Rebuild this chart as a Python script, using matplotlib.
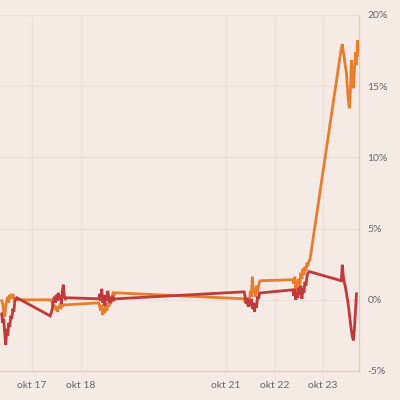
import matplotlib
matplotlib.use("Agg")
import matplotlib.pyplot as plt
import pandas as pd

# ---- data (percent change), half-hourly from 09:00 each trading day ----
session_days = ["2019-10-16", "2019-10-17", "2019-10-18",
                "2019-10-21", "2019-10-22", "2019-10-23"]

orange_16 = [-0.07, -0.28, -0.92, -1.20, -0.42, -0.07, 0.21, -0.21, 0.35,
             0.14, 0.42, 0.07, 0.21, 0.0, 0.0, 0.0, 0.0, 0.0]
orange_17 = [0.0, -0.07, -0.14, -0.49, -0.35, -0.70, -0.49, -0.85, -0.42,
             -0.63, -0.28, -0.49, -0.35, -0.42, -0.35, -0.35, -0.35, -0.35]
orange_18 = [-0.21, -0.49, -0.77, -0.35, -1.06, -0.63, -0.92, -0.42, -0.77,
             -0.21, -0.49, -0.07, -0.28, 0.21, 0.42, 0.28, 0.49, 0.49]
orange_21 = [0.07, -0.21, 0.14, -0.35, 0.07, -0.07, 0.63, 0.21, 1.62,
             0.49, 0.77, 0.21, 0.99, 0.49, 0.92, 1.27, 1.34, 1.34]
orange_22 = [1.41, 1.13, 1.62, 0.63, 1.34, 0.42, 1.48, 1.06, 1.90,
             1.48, 2.18, 1.76, 2.32, 2.04, 2.61, 2.39, 2.75, 2.82]
orange_23 = [17.68, 17.96, 17.39, 16.97, 16.41, 15.99, 14.86, 14.01, 13.45,
             14.72, 16.83, 15.77, 14.86, 16.13, 17.39, 16.48, 18.24, 17.18]

red_16 = [-0.99, -1.62, -1.34, -2.32, -3.17, -2.04, -2.54, -1.62, -1.90,
          -1.13, -1.34, -0.63, -0.85, -0.07, 0.07, 0.14, 0.07, 0.07]
red_17 = [-1.13, -0.92, -0.63, -0.07, 0.21, -0.21, 0.35, -0.07, 0.49,
          0.07, 0.28, -0.28, 0.63, 1.06, 0.21, 0.07, 0.14, 0.14]
red_18 = [0.07, 0.42, -0.07, 0.77, -0.21, 0.28, -0.42, 0.35, -0.07,
          0.63, 0.07, -0.21, 0.21, 0.0, 0.14, 0.0, 0.07, 0.07]
red_21 = [0.56, 0.07, -0.28, 0.14, -0.49, -0.07, -0.42, 0.07, -0.63,
          -0.21, -0.85, -0.28, -0.56, 0.21, 0.07, 0.42, 0.49, 0.49]
red_22 = [0.70, 0.28, 0.77, 0.0, 0.49, 0.14, 0.85, 0.35, 0.99,
          0.07, 0.77, 0.49, 1.27, 0.99, 1.62, 1.90, 1.97, 1.97]
red_23 = [1.34, 2.46, 1.62, 1.20, 0.92, 0.49, 0.07, -0.42, -0.99,
          -1.62, -2.18, -2.60, -2.85, -2.04, -0.77, 0.42]

orange_sessions = [orange_16, orange_17, orange_18, orange_21, orange_22, orange_23]
red_sessions = [red_16, red_17, red_18, red_21, red_22, red_23]

tick_dates = ["2019-10-17", "2019-10-18", "2019-10-21", "2019-10-22", "2019-10-23"]
tick_labels = ["okt 17", "okt 18", "okt 21", "okt 22", "okt 23"]
y_ticks = [-5, 0, 5, 10, 15, 20]
y_labels = ["-5%", "0%", "5%", "10%", "15%", "20%"]


def build(sessions):
    xs, ys = [], []
    for day, vals in zip(session_days, sessions):
        t = pd.date_range(day + " 09:00", periods=len(vals), freq="30min")
        xs.extend(t)
        ys.extend(vals)
    return pd.Series(ys, index=pd.DatetimeIndex(xs))


orange = build(orange_sessions)
red = build(red_sessions)

BG = "#F6EAE4"
GRID = "#EEE0D6"
TXT = "#666666"

fig = plt.figure(figsize=(4, 4), dpi=100, facecolor=BG)
ax = fig.add_axes([0.0, 0.0725, 0.8975, 0.89])
ax.set_facecolor(BG)

ax.plot(orange.index, orange.values, color="#E67E2E", lw=2.0,
        solid_joinstyle="miter", zorder=3)
ax.plot(red.index, red.values, color="#BF3B3B", lw=2.0,
        solid_joinstyle="miter", zorder=4)

ax.set_xlim(pd.Timestamp("2019-10-16 08:10"), pd.Timestamp("2019-10-23 17:45"))
ax.set_ylim(-5, 20)

ax.set_xticks(pd.to_datetime(tick_dates))
ax.set_xticklabels(tick_labels)
ax.set_yticks(y_ticks)
ax.set_yticklabels(y_labels)
ax.yaxis.tick_right()

for lab in ax.get_xticklabels() + ax.get_yticklabels():
    lab.set_family("Lato")
    lab.set_fontsize(7.5)
    lab.set_color(TXT)

ax.tick_params(axis="both", length=0)
ax.tick_params(axis="x", pad=7)
ax.tick_params(axis="y", pad=6)

ax.grid(True, color=GRID, lw=0.9, zorder=0)
ax.set_axisbelow(True)

for s in ["top", "left"]:
    ax.spines[s].set_visible(False)
for s in ["bottom", "right"]:
    ax.spines[s].set_color("#DCCDC4")
    ax.spines[s].set_linewidth(0.9)

fig.savefig("out.png", dpi=100, facecolor=BG)
